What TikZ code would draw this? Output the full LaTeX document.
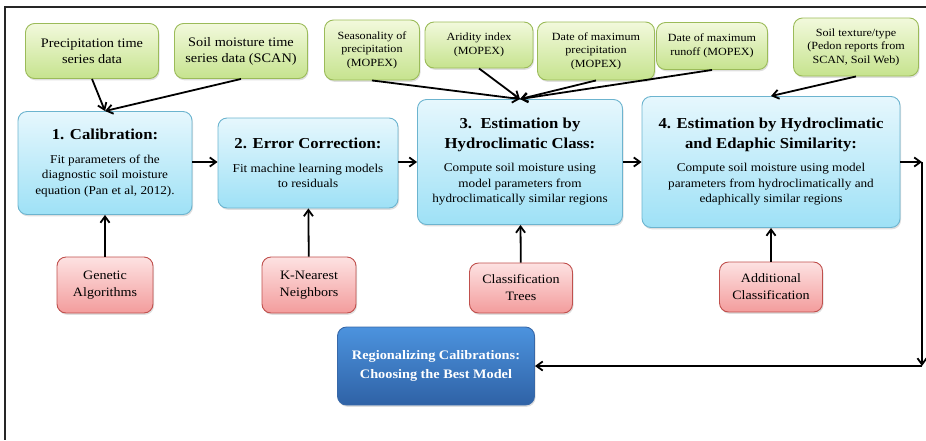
\documentclass[tikz,border=0pt]{standalone}
\usepackage{fontspec}
\setmainfont{Liberation Serif}[FakeStretch=1.1]
\usetikzlibrary{arrows.meta,shadows}
\definecolor{grnline}{HTML}{9BBB59}
\definecolor{grntop}{HTML}{F2F9DC}
\definecolor{grnbot}{HTML}{C6E38E}
\definecolor{bluline}{HTML}{6CB4CF}
\definecolor{blutop}{HTML}{E6F7FD}
\definecolor{blubot}{HTML}{9EE1F6}
\definecolor{redline}{HTML}{C0504D}
\definecolor{redtop}{HTML}{FDE2E2}
\definecolor{redbot}{HTML}{F39C9C}
\definecolor{navline}{HTML}{3868A8}
\definecolor{navtop}{HTML}{4C93DE}
\definecolor{navbot}{HTML}{2F62A6}
\newcommand{\ktitle}{\fontsize{15.2}{20}\selectfont\bfseries}
\tikzset{
  box/.style={draw, rounded corners=9pt, align=center, inner sep=2pt, line width=0.9pt,
    drop shadow={shadow xshift=1pt, shadow yshift=-1.8pt, opacity=0.25}},
  kdata/.style={box, draw=grnline, top color=grntop, bottom color=grnbot, font=\fontsize{13}{16}\selectfont},
  kdatasmall/.style={kdata, font=\fontsize{11}{13.5}\selectfont},
  kstep/.style={box, draw=bluline, top color=blutop, bottom color=blubot, font=\fontsize{12}{15.5}\selectfont},
  kmethod/.style={box, draw=redline, top color=redtop, bottom color=redbot, font=\fontsize{12.8}{17}\selectfont},
  kresult/.style={box, draw=navline, top color=navtop, bottom color=navbot, text=white, font=\fontsize{13}{19}\selectfont\bfseries},
  flow/.style={-{Straight Barb[length=2.2mm, width=3.2mm]}, line width=1.8pt},
}
\begin{document}
\begin{tikzpicture}[x=1pt, y=-1pt]
    \useasboundingbox (0,0) rectangle (926,440);
    \draw[line width=2pt, black!85] (926,7) -- (5,7) -- (5,440);
    % data sources
    \node[kdata, minimum width=133pt, minimum height=55pt] (prec) at (92,51) {Precipitation time\\series data};
    \node[kdata, minimum width=133pt, minimum height=55pt] (smts) at (241,51) {Soil moisture time\\series data (SCAN)};
    \node[kdatasmall, minimum width=95pt, minimum height=60pt] (seas) at (372,50) {Seasonality of\\precipitation\\(MOPEX)};
    \node[kdatasmall, minimum width=108pt, minimum height=46pt] (arid) at (479,45) {Aridity index\\(MOPEX)};
    \node[kdatasmall, minimum width=117pt, minimum height=58pt] (dmp) at (596,51) {Date of maximum\\precipitation\\(MOPEX)};
    \node[kdatasmall, minimum width=111pt, minimum height=47pt] (dmr) at (712,46) {Date of maximum\\runoff (MOPEX)};
    \node[kdatasmall, minimum width=125pt, minimum height=58pt] (soil) at (856,47) {Soil texture/type\\(Pedon reports from\\SCAN, Soil Web)};
    % steps
    \node[kstep, minimum width=174pt, minimum height=103pt] (calib) at (105,163)
      {{\ktitle 1. Calibration:}\\[8pt]Fit parameters of the\\diagnostic soil moisture\\equation (Pan et al, 2012).};
    \node[kstep, minimum width=180pt, minimum height=90pt] (errc) at (308,163)
      {{\ktitle 2. Error Correction:}\\[8pt]Fit machine learning models\\to residuals};
    \node[kstep, minimum width=205pt, minimum height=125pt] (est3) at (520,162)
      {{\ktitle 3.\ \ Estimation by}\\[4pt]{\ktitle Hydroclimatic Class:}\\[8pt]Compute soil moisture using\\model parameters from\\hydroclimatically similar regions};
    \node[kstep, minimum width=258pt, minimum height=131pt] (est4) at (771,162)
      {{\ktitle 4. Estimation by Hydroclimatic}\\[4pt]{\ktitle and Edaphic Similarity:}\\[8pt]Compute soil moisture using model\\parameters from hydroclimatically and\\edaphically similar regions};
    % methods
    \node[kmethod, minimum width=96pt, minimum height=56pt] (ga) at (105,285) {Genetic\\Algorithms};
    \node[kmethod, minimum width=94pt, minimum height=56pt] (knn) at (309,285) {K-Nearest\\Neighbors};
    \node[kmethod, minimum width=103pt, minimum height=50pt] (ctree) at (521,288) {Classification\\Trees};
    \node[kmethod, minimum width=103pt, minimum height=50pt] (addc) at (771,287) {Additional\\Classification};
    % result
    \node[kresult, minimum width=197pt, minimum height=78pt] (reg) at (436,366) {Regionalizing Calibrations:\\Choosing the Best Model};
    \coordinate (rtop) at (922,162);
    \coordinate (rbot) at (922,366);
    % connectors
    \draw[flow] (prec.south) -- (calib.north);
    \draw[flow] (smts.south) -- (calib.north);
    \draw[flow] (seas.south) -- (est3.north);
    \draw[flow] (arid.south) -- (est3.north);
    \draw[flow] (dmp.south) -- (est3.north);
    \draw[flow] (dmr.south) -- (est3.north);
    \draw[flow] (soil.south) -- (est4.north);
    \draw[flow] (calib.east |- 0,162) -- (errc.west |- 0,162);
    \draw[flow] (errc.east |- 0,162) -- (est3.west |- 0,162);
    \draw[flow] (est3.east) -- (est4.west);
    \draw[flow] (ga) -- (calib);
    \draw[flow] (knn) -- (errc);
    \draw[flow] (ctree) -- (est3);
    \draw[flow] (addc) -- (est4);
    \draw[flow] (est4.east) -- (rtop);
    \draw[flow] (rtop) -- (rbot);
    \draw[flow] (rbot) -- (reg.east);
  \end{tikzpicture}
\end{document}
